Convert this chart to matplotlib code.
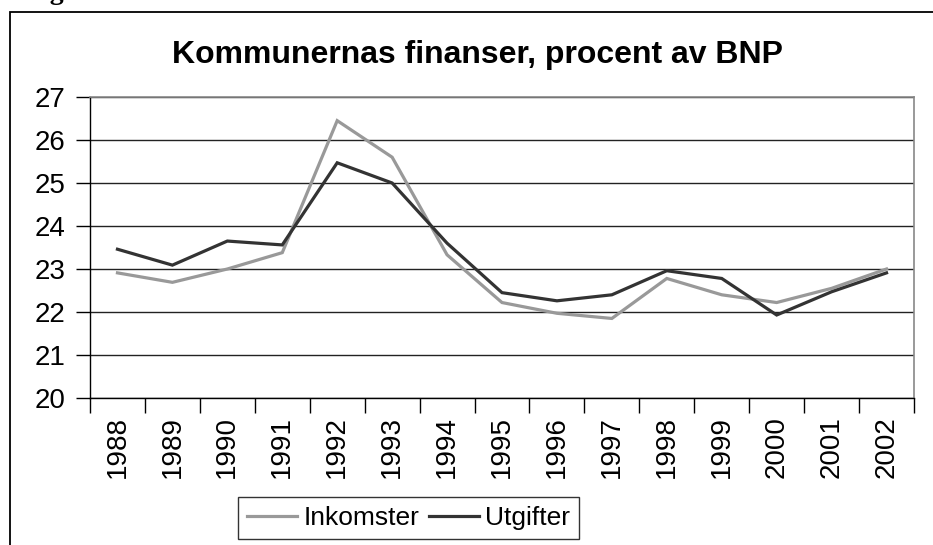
import matplotlib
matplotlib.use("Agg")
import matplotlib.pyplot as plt
import numpy as np
from matplotlib.patches import Rectangle

# Data
years = ["1988", "1989", "1990", "1991", "1992", "1993", "1994", "1995",
         "1996", "1997", "1998", "1999", "2000", "2001", "2002"]
inkomster = [22.91, 22.69, 23.00, 23.38, 26.45, 25.60, 23.33, 22.22,
             21.97, 21.85, 22.78, 22.40, 22.22, 22.55, 23.00]
utgifter = [23.46, 23.09, 23.65, 23.56, 25.47, 25.00, 23.60, 22.45,
            22.26, 22.40, 22.96, 22.78, 21.93, 22.47, 22.91]

plt.rcParams['font.family'] = ['Liberation Sans', 'DejaVu Sans']

W, H = 933, 545
fig = plt.figure(figsize=(W / 100, H / 100), dpi=100)
fig.patch.set_facecolor('white')

# outer chart frame (cut off at right and bottom)
fig.patches.append(Rectangle((10 / W, -0.1), 1.2, 1 - 12 / H + 0.1,
                             transform=fig.transFigure, fill=False,
                             edgecolor='black', linewidth=1.3))

# cropped caption above the frame (only its lower edge is visible)
fig.text(26 / W, 1 + 1 / H, "Figur", fontsize=20, fontweight='bold',
         va='baseline', ha='left', family='Liberation Serif')

ax = fig.add_axes([90 / W, 1 - 398 / H, (914 - 90) / W, (398 - 97) / H])

x = np.arange(len(years))
ax.plot(x, inkomster, color='#999999', linewidth=2.3, label='Inkomster',
        solid_joinstyle='miter')
ax.plot(x, utgifter, color='#333333', linewidth=2.3, label='Utgifter',
        solid_joinstyle='miter')

ax.set_xlim(-0.5, len(years) - 0.5)
ax.set_ylim(20, 27)
ax.set_yticks(range(20, 28))
ax.tick_params(axis='y', labelsize=20, length=10, width=1, direction='out',
               pad=8, colors='black')

# ticks at category boundaries, labels at centres
ax.set_xticks(np.arange(-0.5, len(years)), labels=[])
ax.set_xticks(x, labels=years, minor=True)
ax.tick_params(axis='x', which='major', length=11, width=1, direction='out')
ax.tick_params(axis='x', which='minor', length=0, labelsize=20,
               labelrotation=90, pad=13)

ax.grid(axis='y', color='#222222', linewidth=1)
ax.set_axisbelow(True)
for side in ('top', 'right'):
    ax.spines[side].set_color('#888888')
    ax.spines[side].set_linewidth(1.2)
for side in ('left', 'bottom'):
    ax.spines[side].set_color('black')
    ax.spines[side].set_linewidth(1)

fig.text(478 / W, 1 - 63 / H, "Kommunernas finanser, procent av BNP",
         fontsize=23, fontweight='bold', ha='center', va='baseline')

leg = fig.legend(loc='upper left', bbox_to_anchor=(238 / W, 1 - 497 / H),
                 ncol=2, fontsize=19, frameon=True, fancybox=False,
                 edgecolor='black', borderaxespad=0, handlelength=1.9,
                 handletextpad=0.22, columnspacing=0.38, borderpad=0.35)
leg.get_frame().set_linewidth(1)

fig.savefig("out.png", dpi=100)
